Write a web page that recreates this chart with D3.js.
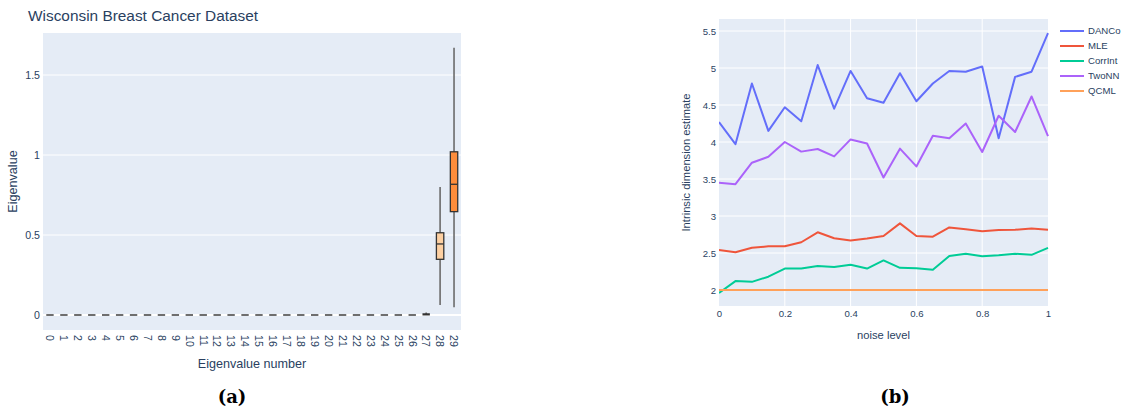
<!DOCTYPE html>
<html>
<head>
<meta charset="utf-8">
<script src="https://cdn.jsdelivr.net/npm/d3@7"></script>
<style>
  html, body { margin: 0; padding: 0; background: #fff; }
  svg { display: block; }
  text { font-family: "Liberation Sans", Arial, sans-serif; fill: #2a3f5f; }
</style>
</head>
<body>
<svg id="chart" width="1122" height="408"></svg>
<script>
// ---- Panel (a): eigenvalue distributions, Wisconsin Breast Cancer Dataset ----
const eigenNumbers = d3.range(30).map(String);
// five-number summaries per eigenvalue index: [min, q1, median, q3, max]
const eigenMin    = [0,0,0,0,0,0,0,0,0,0,0,0,0,0,0,0,0,0,0,0,0,0,0,0,0,0,0,0.000,0.062,0.048];
const eigenQ1     = [0,0,0,0,0,0,0,0,0,0,0,0,0,0,0,0,0,0,0,0,0,0,0,0,0,0,0,0.002,0.348,0.646];
const eigenMedian = [0,0,0,0,0,0,0,0,0,0,0,0,0,0,0,0,0,0,0,0,0,0,0,0,0,0,0,0.004,0.444,0.817];
const eigenQ3     = [0,0,0,0,0,0,0,0,0,0,0,0,0,0,0,0,0,0,0,0,0,0,0,0,0,0,0,0.006,0.514,1.020];
const eigenMax    = [0,0,0,0,0,0,0,0,0,0,0,0,0,0,0,0,0,0,0,0,0,0,0,0,0,0,0,0.016,0.800,1.670];
const eigenTicks  = [0, 0.5, 1, 1.5];

// ---- Panel (b): intrinsic dimension estimates vs noise level ----
const noiseLevels = [0,0.05,0.1,0.15,0.2,0.25,0.3,0.35,0.4,0.45,0.5,0.55,0.6,0.65,0.7,0.75,0.8,0.85,0.9,0.95,1];
const danco   = [4.27,3.97,4.79,4.15,4.47,4.28,5.04,4.45,4.96,4.59,4.53,4.93,4.55,4.79,4.96,4.95,5.02,4.05,4.88,4.95,5.47];
const mle     = [2.54,2.51,2.57,2.59,2.59,2.645,2.78,2.70,2.67,2.695,2.73,2.90,2.73,2.72,2.845,2.82,2.795,2.81,2.815,2.83,2.815];
const corrInt = [1.96,2.12,2.11,2.18,2.29,2.29,2.325,2.31,2.34,2.29,2.40,2.30,2.295,2.275,2.46,2.49,2.455,2.47,2.49,2.475,2.57];
const twoNN   = [3.45,3.43,3.72,3.80,4.00,3.87,3.905,3.805,4.035,3.98,3.52,3.91,3.67,4.085,4.05,4.25,3.865,4.355,4.135,4.615,4.08];
const qcml    = [2,2,2,2,2,2,2,2,2,2,2,2,2,2,2,2,2,2,2,2,2];
const seriesNames  = ["DANCo","MLE","CorrInt","TwoNN","QCML"];
const seriesValues = [danco, mle, corrInt, twoNN, qcml];
const seriesColors = ["#636efa","#ef553b","#00cc96","#ab63fa","#ffa15a"];
const dimTicks   = [2, 2.5, 3, 3.5, 4, 4.5, 5, 5.5];
const noiseTicks = [0, 0.2, 0.4, 0.6, 0.8, 1];

const svg = d3.select("#chart");
const BG = "#e5ecf6";
const FONT = "'Liberation Sans', Arial, sans-serif";

// ================= Panel (a) =================
const A = {left: 43, right: 461, top: 33, bottom: 330};
const xA = d3.scaleBand().domain(eigenNumbers).range([A.left, A.right]).paddingInner(0.47).paddingOuter(0.235);
const yA = d3.scaleLinear().domain([-0.09375, 1.7625]).range([A.bottom, A.top]);

const gA = svg.append("g");
gA.append("rect").attr("x", A.left).attr("y", A.top)
  .attr("width", A.right - A.left).attr("height", A.bottom - A.top).attr("fill", BG);

// horizontal grid
gA.append("g").selectAll("line").data(eigenTicks).join("line")
  .attr("x1", A.left).attr("x2", A.right)
  .attr("y1", d => yA(d)).attr("y2", d => yA(d))
  .attr("stroke", "#fff").attr("stroke-width", d => d === 0 ? 2 : 1);

// y axis labels
const axisA = d3.axisLeft(yA).tickValues(eigenTicks).tickSize(0).tickPadding(3).tickFormat(d3.format("~g"));
gA.append("g").attr("transform", `translate(${A.left},0)`).call(axisA)
  .call(g => g.select(".domain").remove())
  .call(g => g.selectAll("text").attr("font-size", 10.6).attr("fill", "#2a3f5f").style("font-family", FONT));

// x axis labels (rotated)
gA.append("g").selectAll("text").data(eigenNumbers).join("text")
  .attr("transform", d => `translate(${xA(d) + xA.bandwidth() / 2},${A.bottom + 5}) rotate(90)`)
  .attr("dy", "0.35em").attr("font-size", 10.6).attr("text-anchor", "start")
  .text(d => d);

// boxes
const boxFill = d3.scaleOrdinal().domain(["28", "29"]).range(["#fdd0a2", "#fd8d3c"]).unknown("#9a9a9a");
const boxes = eigenNumbers.map((k, i) => ({
  k, min: eigenMin[i], q1: eigenQ1[i], med: eigenMedian[i], q3: eigenQ3[i], max: eigenMax[i]
}));
const bw = xA.bandwidth();
const bg = gA.append("g").selectAll("g").data(boxes).join("g")
  .attr("transform", d => `translate(${xA(d.k)},0)`);
// whiskers
bg.append("line")
  .attr("x1", bw / 2).attr("x2", bw / 2)
  .attr("y1", d => yA(d.max)).attr("y2", d => yA(d.min))
  .attr("stroke", "#6b6b6b").attr("stroke-width", 1.6);
// degenerate (all-zero) boxes drawn as flat dashes
bg.filter(d => d.q3 - d.q1 < 0.001)
  .append("line").attr("x1", 0).attr("x2", bw)
  .attr("y1", d => yA(d.med)).attr("y2", d => yA(d.med))
  .attr("stroke", "#6e6e6e").attr("stroke-width", 2);
bg.filter(d => d.q3 - d.q1 >= 0.001 && d.q3 - d.q1 < 0.02)
  .append("line").attr("x1", 0).attr("x2", bw)
  .attr("y1", d => yA(d.med)).attr("y2", d => yA(d.med))
  .attr("stroke", "#333").attr("stroke-width", 2.2);
const real = bg.filter(d => d.q3 - d.q1 >= 0.02);
real.append("rect")
  .attr("x", 0).attr("width", bw)
  .attr("y", d => yA(d.q3)).attr("height", d => yA(d.q1) - yA(d.q3))
  .attr("fill", d => boxFill(d.k)).attr("stroke", "#333").attr("stroke-width", 1.3);
real.append("line").attr("x1", 0).attr("x2", bw)
  .attr("y1", d => yA(d.med)).attr("y2", d => yA(d.med))
  .attr("stroke", "#333").attr("stroke-width", 1.3);

// titles
svg.append("text").attr("x", 28).attr("y", 21).attr("font-size", 15.4).text("Wisconsin Breast Cancer Dataset");
svg.append("text").attr("x", (A.left + A.right) / 2).attr("y", 368).attr("text-anchor", "middle")
  .attr("font-size", 12.6).text("Eigenvalue number");
svg.append("text").attr("transform", `translate(17,${(A.top + A.bottom) / 2}) rotate(-90)`)
  .attr("text-anchor", "middle").attr("font-size", 12.6).text("Eigenvalue");

// ================= Panel (b) =================
const B = {left: 719, right: 1048, top: 19, bottom: 306};
const xB = d3.scaleLinear().domain([0, 1]).range([B.left, B.right]);
const yB = d3.scaleLinear().domain([2 - (306 - 290) / 74, 2 + (290 - 19) / 74]).range([B.bottom, B.top]);

const gB = svg.append("g");
gB.append("rect").attr("x", B.left).attr("y", B.top)
  .attr("width", B.right - B.left).attr("height", B.bottom - B.top).attr("fill", BG);
gB.append("g").selectAll("line").data(noiseTicks.filter(t => t > 0 && t < 1)).join("line")
  .attr("x1", d => xB(d)).attr("x2", d => xB(d)).attr("y1", B.top).attr("y2", B.bottom)
  .attr("stroke", "#fff").attr("stroke-width", 1);
gB.append("g").selectAll("line").data(dimTicks).join("line")
  .attr("x1", B.left).attr("x2", B.right).attr("y1", d => yB(d)).attr("y2", d => yB(d))
  .attr("stroke", "#fff").attr("stroke-width", 1);

gB.append("g").attr("transform", `translate(${B.left},0)`)
  .call(d3.axisLeft(yB).tickValues(dimTicks).tickSize(0).tickPadding(3).tickFormat(d3.format("~g")))
  .call(g => g.select(".domain").remove())
  .call(g => g.selectAll("text").attr("font-size", 9.6).attr("fill", "#2a3f5f").style("font-family", FONT));
gB.append("g").attr("transform", `translate(0,${B.bottom})`)
  .call(d3.axisBottom(xB).tickValues(noiseTicks).tickSize(0).tickPadding(4).tickFormat(d3.format("~g")))
  .call(g => g.select(".domain").remove())
  .call(g => g.selectAll("text").attr("font-size", 9.6).attr("fill", "#2a3f5f").style("font-family", FONT));

const line = d3.line().x((d, i) => xB(noiseLevels[i])).y(d => yB(d));
svg.append("clipPath").attr("id", "clipB").append("rect")
  .attr("x", B.left).attr("y", B.top).attr("width", B.right - B.left + 2).attr("height", B.bottom - B.top);
gB.append("g").attr("clip-path", "url(#clipB)").selectAll("path").data(seriesValues).join("path")
  .attr("d", d => line(d)).attr("fill", "none")
  .attr("stroke", (d, i) => seriesColors[i]).attr("stroke-width", 2).attr("stroke-linejoin", "round");

// legend
const leg = svg.append("g").selectAll("g").data(seriesNames).join("g")
  .attr("transform", (d, i) => `translate(1060,${31 + i * 15})`);
leg.append("line").attr("x1", 0).attr("x2", 24).attr("y1", 0).attr("y2", 0)
  .attr("stroke", (d, i) => seriesColors[i]).attr("stroke-width", 2);
leg.append("text").attr("x", 28).attr("dy", "0.35em").attr("font-size", 9.6).text(d => d);

svg.append("text").attr("x", (B.left + B.right) / 2).attr("y", 339).attr("text-anchor", "middle")
  .attr("font-size", 11.2).text("noise level");
svg.append("text").attr("transform", `translate(690,${(B.top + B.bottom) / 2}) rotate(-90)`)
  .attr("text-anchor", "middle").attr("font-size", 11.2).text("Intrinsic dimension estimate");

// panel captions
svg.append("text").attr("x", 232).attr("y", 403).attr("text-anchor", "middle")
  .style("font-family", "'DejaVu Serif', serif").style("fill", "#000").attr("font-weight", "bold").attr("font-size", 18).text("(a)");
svg.append("text").attr("x", 895).attr("y", 403).attr("text-anchor", "middle")
  .style("font-family", "'DejaVu Serif', serif").style("fill", "#000").attr("font-weight", "bold").attr("font-size", 18).text("(b)");
</script>
</body>
</html>
